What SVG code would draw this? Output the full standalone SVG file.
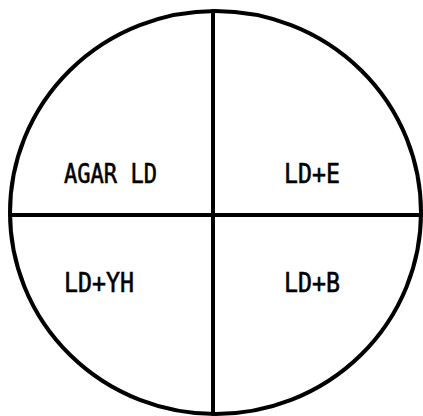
<svg xmlns="http://www.w3.org/2000/svg" width="423" height="416" viewBox="0 0 423 416">
<style>
.ln{fill:none;stroke:#000;stroke-width:4;stroke-linecap:round}
.t{font-family:"DejaVu Sans Mono","Liberation Mono",monospace;font-size:27px;fill:#000;stroke:#000;stroke-width:0.6}
</style>
<rect width="423" height="416" fill="#fff"/>
<g id="plate">
<ellipse class="ln" cx="215.5" cy="212.5" rx="205.5" ry="201.5"/>
</g>
<g id="dividers">
<line class="ln" x1="213" y1="11" x2="213" y2="414"/>
<line class="ln" x1="10" y1="215" x2="421" y2="215"/>
</g>
<g id="q1"><text class="t" x="64" y="183" textLength="93" lengthAdjust="spacingAndGlyphs">AGAR LD</text></g>
<g id="q2"><text class="t" x="284" y="183" textLength="56" lengthAdjust="spacingAndGlyphs">LD+E</text></g>
<g id="q3"><text class="t" x="64" y="292" textLength="70" lengthAdjust="spacingAndGlyphs">LD+YH</text></g>
<g id="q4"><text class="t" x="284" y="292" textLength="56" lengthAdjust="spacingAndGlyphs">LD+B</text></g>
</svg>
